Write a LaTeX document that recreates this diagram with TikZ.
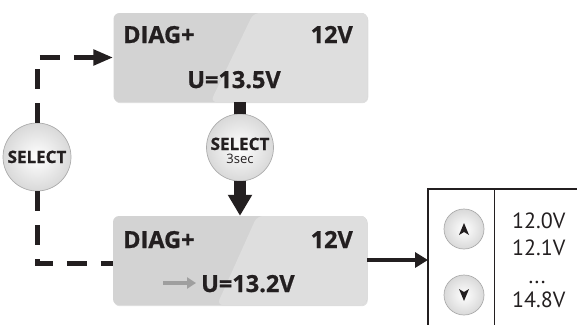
\documentclass[tikz,border=0pt]{standalone}
\usepackage{fontspec}
\setmainfont{Open Sans}[BoldFeatures={FakeBold=0.8}]
\newfontfamily\valfont{PT Sans}
\usetikzlibrary{arrows.meta,shadows,calc}
\definecolor{lcdgray}{RGB}{211,211,211}
\definecolor{lcdlight}{RGB}{222,222,222}
\definecolor{ink}{RGB}{35,31,32}
\begin{document}
\begin{tikzpicture}[x=1pt,y=-1pt,
  lcd/.style={rounded corners=6pt, minimum width=254pt, minimum height=89pt, inner sep=0pt,
    fill=lcdgray, drop shadow={shadow xshift=0.8pt, shadow yshift=-1.2pt, opacity=0.25}},
  lcdtext/.style={font=\fontsize{23.5}{25}\selectfont\bfseries, text=ink, inner sep=0pt},
  btn/.style={circle, draw=gray!65, line width=0.7pt, inner color=white, outer color=gray!30, inner sep=0pt},
  btntext/.style={font=\fontsize{17}{18}\selectfont\bfseries, text=ink, inner sep=0pt},
  valtext/.style={font=\valfont\fontsize{22}{24}\selectfont, text=ink, inner sep=0pt, anchor=base west},
  thick conn/.style={line width=12pt, draw=ink},
  dashconn/.style={line width=5pt, draw=ink, dash pattern=on 20pt off 14pt},
]
\useasboundingbox (0,0) rectangle (577,324);

% LCD boxes
\node[lcd, path picture={\fill[lcdlight] ($(path picture bounding box.north west)+(140,0)$) -- (path picture bounding box.north east) -- (path picture bounding box.south east) -- ($(path picture bounding box.south west)+(97,0)$) -- cycle;}] (top) at (240.5,57.5) {};
\node[lcd, path picture={\fill[lcdlight] ($(path picture bounding box.north west)+(144,0)$) -- (path picture bounding box.north east) -- (path picture bounding box.south east) -- ($(path picture bounding box.south west)+(104,0)$) -- cycle;}] (bot) at (240,260.5) {};

% texts top
\node[lcdtext, anchor=base west] (d1) at (123,43) {DIAG+};
\node[lcdtext, anchor=base east] (v1) at (353,43) {12V};
\node[lcdtext, anchor=base] (u1) at (234,88) {U=13.5V};
% texts bottom
\node[lcdtext, anchor=base west] (d2) at (123,248) {DIAG+};
\node[lcdtext, anchor=base east] (v2) at (353,248) {12V};
\node[lcdtext, anchor=base west] (u2) at (201,292) {U=13.2V};
\coordinate (ga1) at (163,283);
\coordinate (ga2) at (196,283);
\draw[line width=4pt, draw=gray!75, -{Triangle[length=9pt,width=11pt]}] (ga1) -- (ga2);

% buttons
\node[btn, minimum size=68pt] (sel) at (37,157) {};
\node[btntext, anchor=base] (selt) at (37,163) {SELECT};
\node[btn, minimum size=67pt] (sel3) at (240,147.5) {};
\node[btntext, anchor=base] (sel3a) at (240,150) {SELECT};
\node[font=\fontsize{13}{14}\selectfont, text=ink, anchor=base, inner sep=0pt] (sel3b) at (240,163) {3sec};

% thick connectors
\draw[thick conn] (top.south -| sel3) -- (sel3.north);
\draw[thick conn, -{Triangle[length=21pt,width=23pt]}] (sel3.south) -- (bot.north -| sel3);

% dashed connectors
\draw[dashconn, -{Triangle[length=20pt,width=15pt]}] (sel.north) |- (top.west);
\draw[dashconn] (sel.south) |- ($(bot.west)+(0,3)$);

% table
\coordinate (tl) at (428,189);
\coordinate (tr) at (577,189);
\coordinate (tb) at (428,326);
\coordinate (dt) at (494,189);
\coordinate (db) at (494,326);
\draw[line width=1.4pt, draw=ink] (tr) -- (tl) -- (tb);
\draw[line width=1pt, draw=ink] (dt) -- (db);
\coordinate (tin) at (428,260);
\draw[line width=4pt, draw=ink, -{Triangle[length=13pt,width=15pt]}] (bot.east |- tin) -- (tin);

% up/down buttons
\node[btn, minimum size=40pt] (up) at (464,229) {};
\node[btn, minimum size=40pt] (down) at (464,295) {};
\fill[ink] ($(up.center)+(0,-6)$) -- ++(5,12) -- ++(-5,-3) -- ++(-5,3) -- cycle;
\fill[ink] ($(down.center)+(0,6)$) -- ++(5,-12) -- ++(-5,3) -- ++(-5,-3) -- cycle;

% values
\node[valtext] (a1) at (512,228) {12.0V};
\node[valtext] (a2) at (512,255) {12.1V};
\node[font=\valfont\fontsize{22}{24}\selectfont, text=ink, inner sep=0pt, anchor=base] (a3) at (537,283) {...};
\node[valtext] (a4) at (512,307) {14.8V};
\end{tikzpicture}
\end{document}
